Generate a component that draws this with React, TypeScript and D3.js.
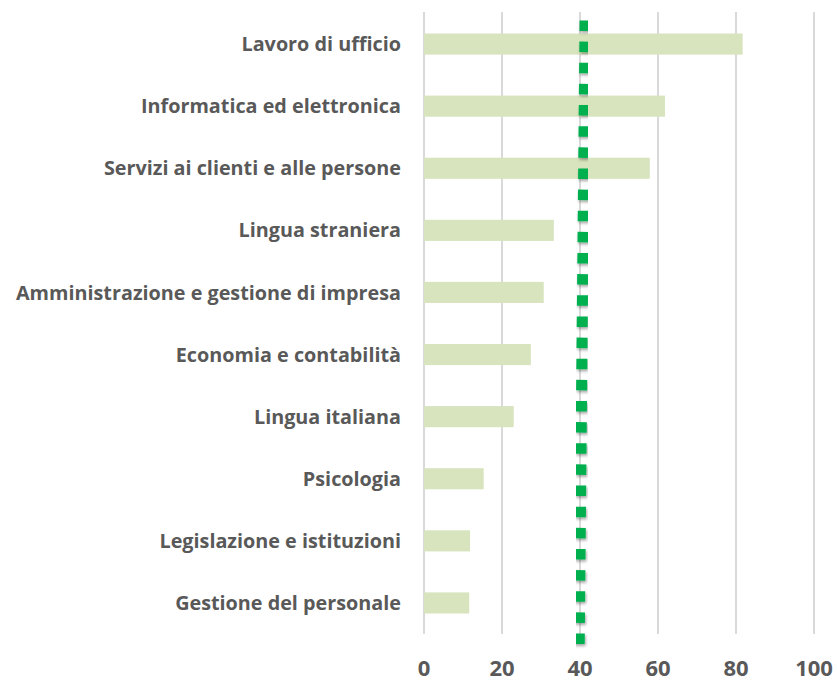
import React from 'react'
import * as d3 from 'd3'

const categories = [
  'Lavoro di ufficio',
  'Informatica ed elettronica',
  'Servizi ai clienti e alle persone',
  'Lingua straniera',
  'Amministrazione e gestione di impresa',
  'Economia e contabilità',
  'Lingua italiana',
  'Psicologia',
  'Legislazione e istituzioni',
  'Gestione del personale',
]
const values = [81.7, 61.8, 57.9, 33.3, 30.7, 27.4, 23.0, 15.3, 11.8, 11.6]
const xTicks = [0, 20, 40, 60, 80, 100]
// reference line (secondary series): value at top and at bottom of its axis
const refLine = [
  {pos: 1, value: 41.3},
  {pos: 0, value: 39.8},
]

const width = 837
const height = 680

const App = () => {
  const x = d3.scaleLinear().domain([0, 100]).range([424, 814])
  const y = d3.scaleBand().domain(categories).range([13, 634]).paddingInner(0.66).paddingOuter(0.33)
  const y2 = d3.scaleLinear().domain([0, 1]).range([644, 20.5])

  const line = d3.line<{pos: number, value: number}>()
    .x(d => x(d.value))
    .y(d => y2(d.pos))

  const labelFont = '"Open Sans", sans-serif'

  return (
    <svg width={width} height={height} style={{position: 'absolute', left: 0, top: 0}}>
      <defs>
        <filter id="shadow" x="-50%" y="-50%" width="200%" height="200%">
          <feDropShadow dx="1" dy="2" stdDeviation="1.5" floodColor="#000" floodOpacity="0.35"/>
        </filter>
      </defs>
      {xTicks.map(t => (
        <line key={t} x1={x(t)} x2={x(t)} y1={12} y2={634} stroke="#d9d9d9" strokeWidth={2}/>
      ))}
      {categories.map((c, i) => (
        <rect
          key={c}
          x={x(0)}
          y={y(c)}
          width={x(values[i]) - x(0)}
          height={y.bandwidth()}
          fill="#d7e4bd"
        />
      ))}
      <path
        d={line(refLine) || ''}
        fill="none"
        stroke="#00b050"
        strokeWidth={11}
        strokeDasharray="10.5 10.64"
        filter="url(#shadow)"
      />
      {categories.map(c => (
        <text
          key={c}
          x={401}
          y={(y(c) || 0) + y.bandwidth() / 2}
          dy="0.36em"
          textAnchor="end"
          fontFamily={labelFont}
          fontWeight="bold"
          fontSize={19.8}
          fill="#595959"
        >{c}</text>
      ))}
      {xTicks.map(t => (
        <text
          key={t}
          x={x(t)}
          y={668}
          dy="0.35em"
          textAnchor="middle"
          fontFamily={labelFont}
          fontWeight="bold"
          fontSize={22}
          fill="#595959"
        >{t}</text>
      ))}
    </svg>
  )
}

export default App
